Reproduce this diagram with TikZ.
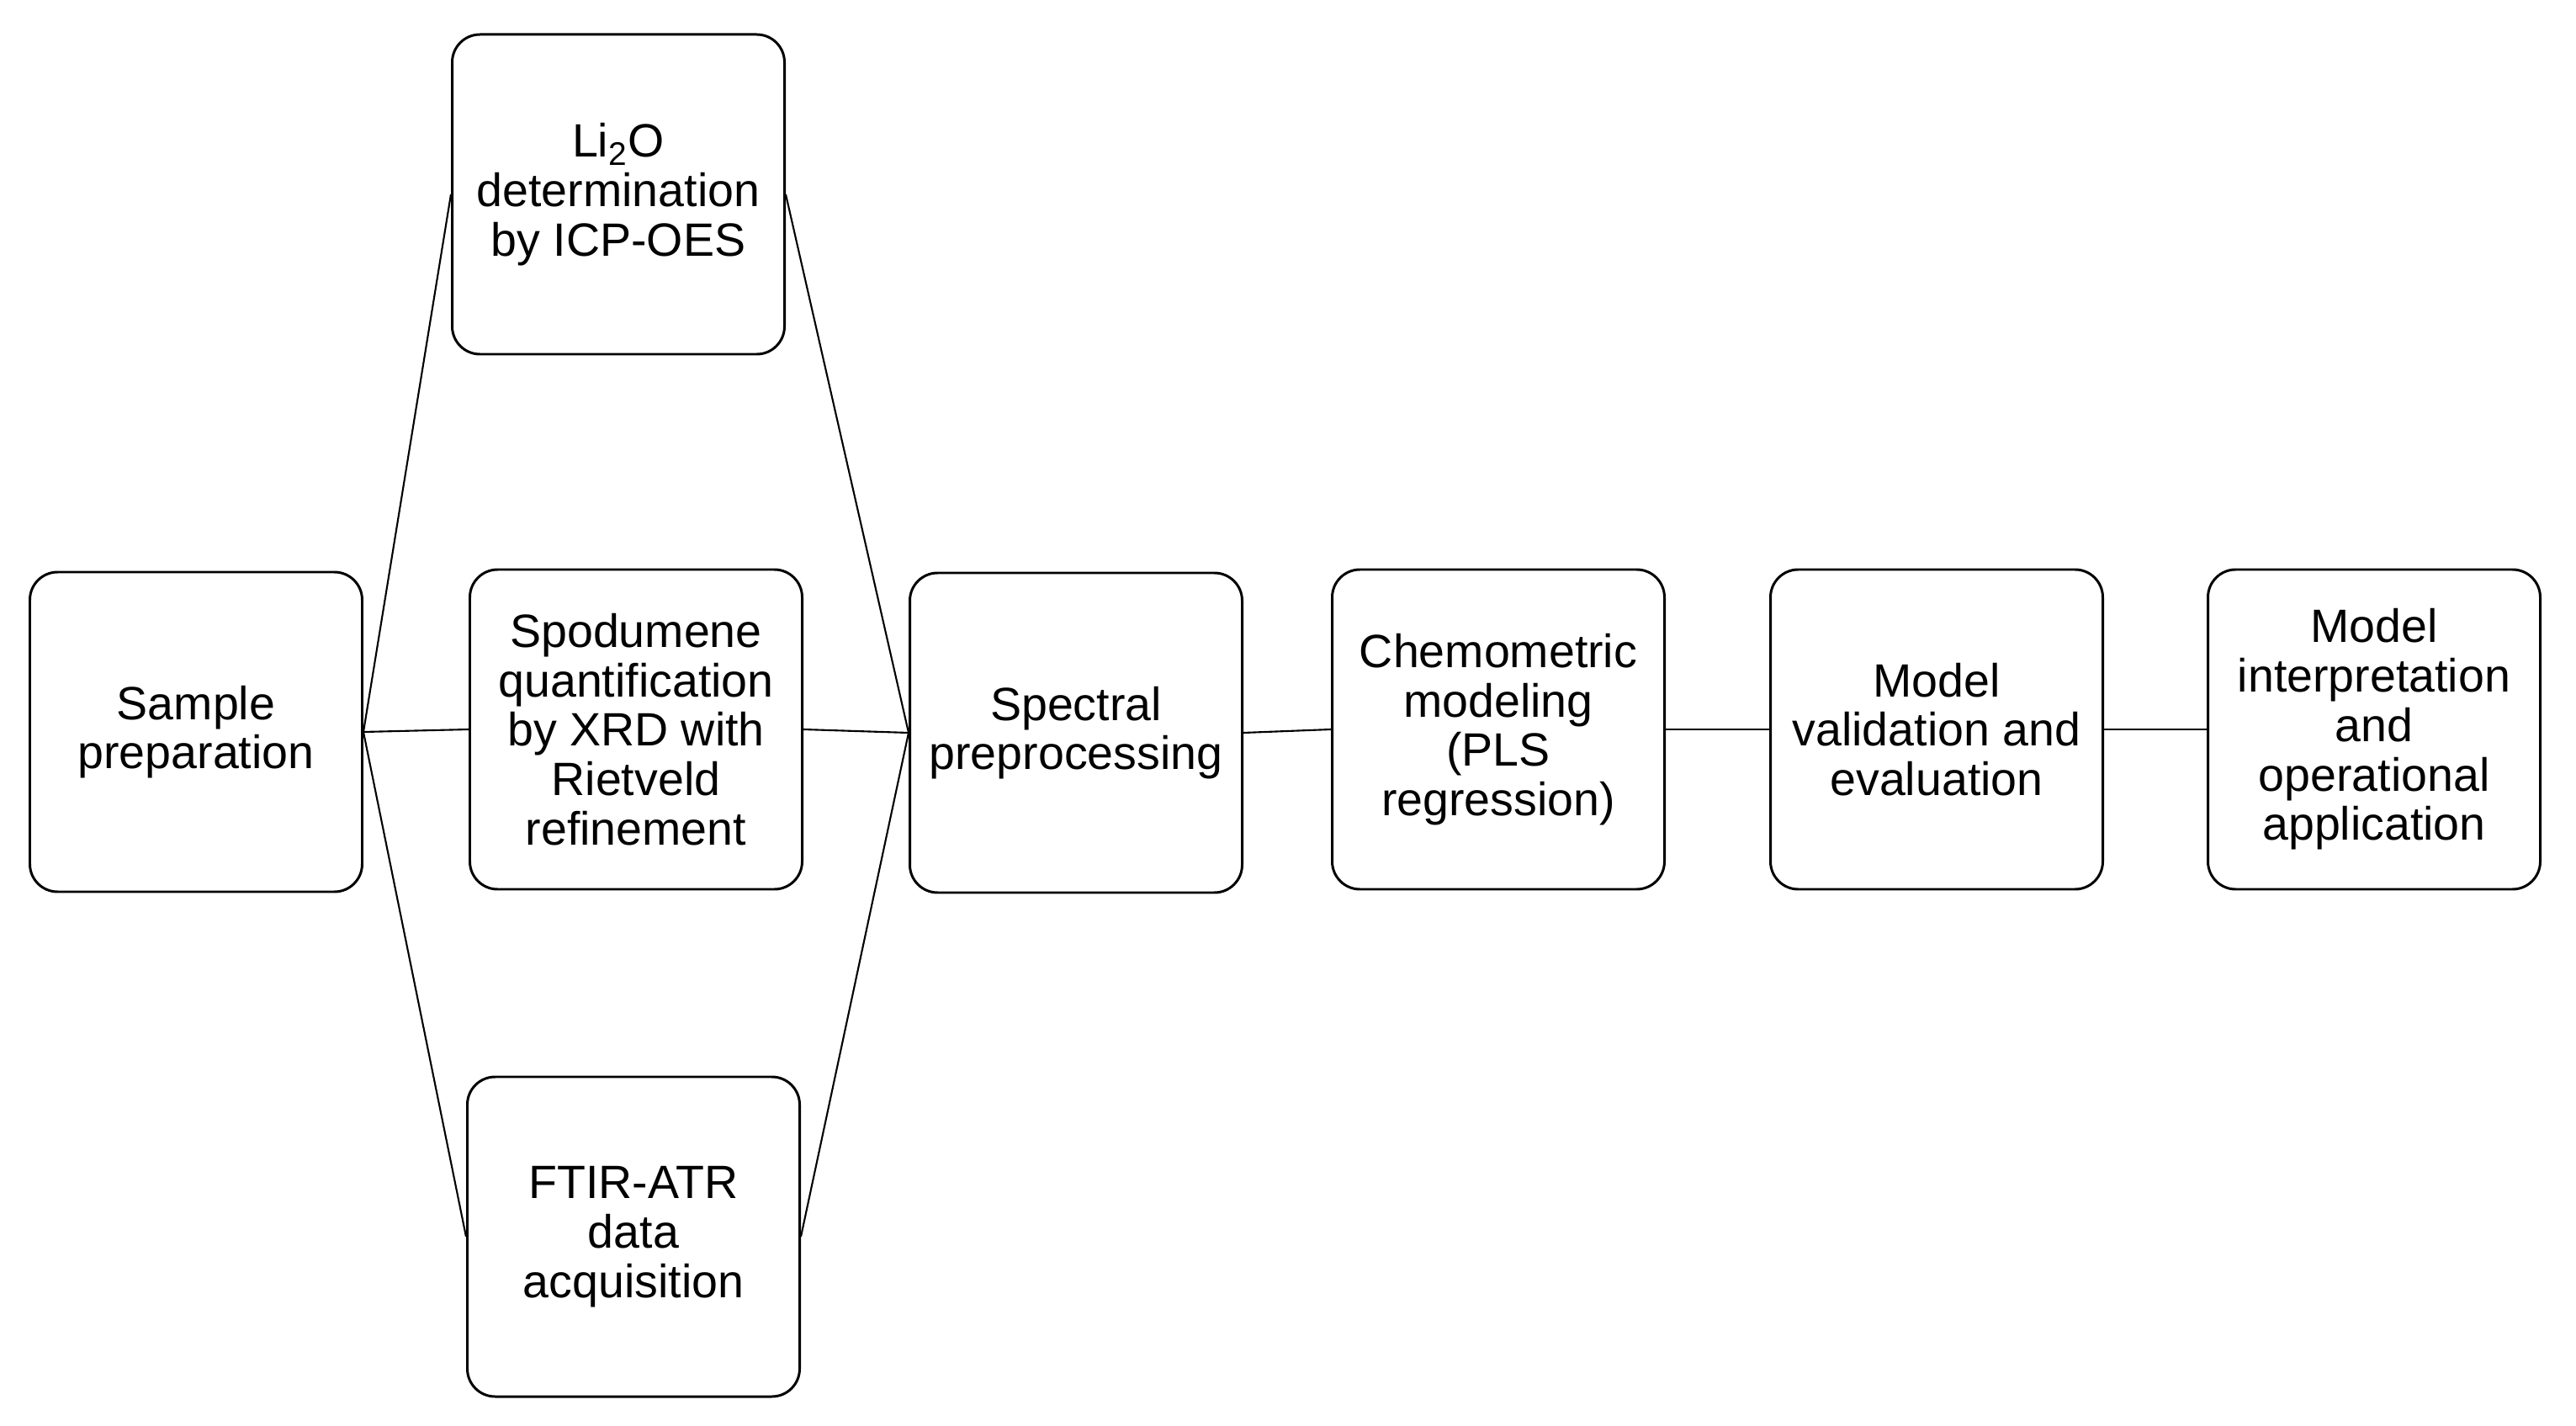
\documentclass[tikz,border=0pt]{standalone}
\usepackage{fontspec}
\setmainfont{Liberation Sans}
\usepackage{tikz}
\usetikzlibrary{calc}

\tikzset{
	stage/.style={draw, line width=0.85pt, rounded corners=3.3mm, align=center,
		minimum width=3.95cm, minimum height=3.8cm, inner sep=1pt,
		font=\fontsize{15.8pt}{16.7pt}\selectfont},
	link/.style={line width=0.6pt}
}

\begin{document}
\begin{tikzpicture}
		%%%%% START %%%%%
		
		\useasboundingbox (0, 0) rectangle (30.62, -16.95);
		
		\node[stage] (sample) at (2.33, -8.70) {Sample\\preparation};
		
		\node[stage] (icp) at (7.35, -2.31) {Li\textsubscript{2}O\\determination\\by ICP-OES};
		\node[stage] (xrd) at (7.56, -8.67) {Spodumene\\quantification\\by XRD with\\Rietveld\\refinement};
		\node[stage] (ftir) at (7.53, -14.70) {FTIR-ATR\\data\\acquisition};
		
		\node[stage] (prep) at (12.79, -8.71) {Spectral\\preprocessing};
		\node[stage] (pls) at (17.81, -8.67) {Chemometric\\modeling\\(PLS\\regression)};
		\node[stage] (valid) at (23.02, -8.67) {Model\\validation and\\evaluation};
		\node[stage] (interp) at (28.22, -8.67) {Model\\interpretation\\and\\operational\\application};
		
		\draw[link] (sample.east) -- (icp.west);
		\draw[link] (sample.east) -- (xrd.west);
		\draw[link] (sample.east) -- (ftir.west);
		
		\draw[link] (icp.east) -- (prep.west);
		\draw[link] (xrd.east) -- (prep.west);
		\draw[link] (ftir.east) -- (prep.west);
		
		\draw[link] (prep.east) -- (pls.west);
		\draw[link] (pls.east) -- (valid.west);
		\draw[link] (valid.east) -- (interp.west);
		
		%%%%% END %%%%%
	\end{tikzpicture}
\end{document}
